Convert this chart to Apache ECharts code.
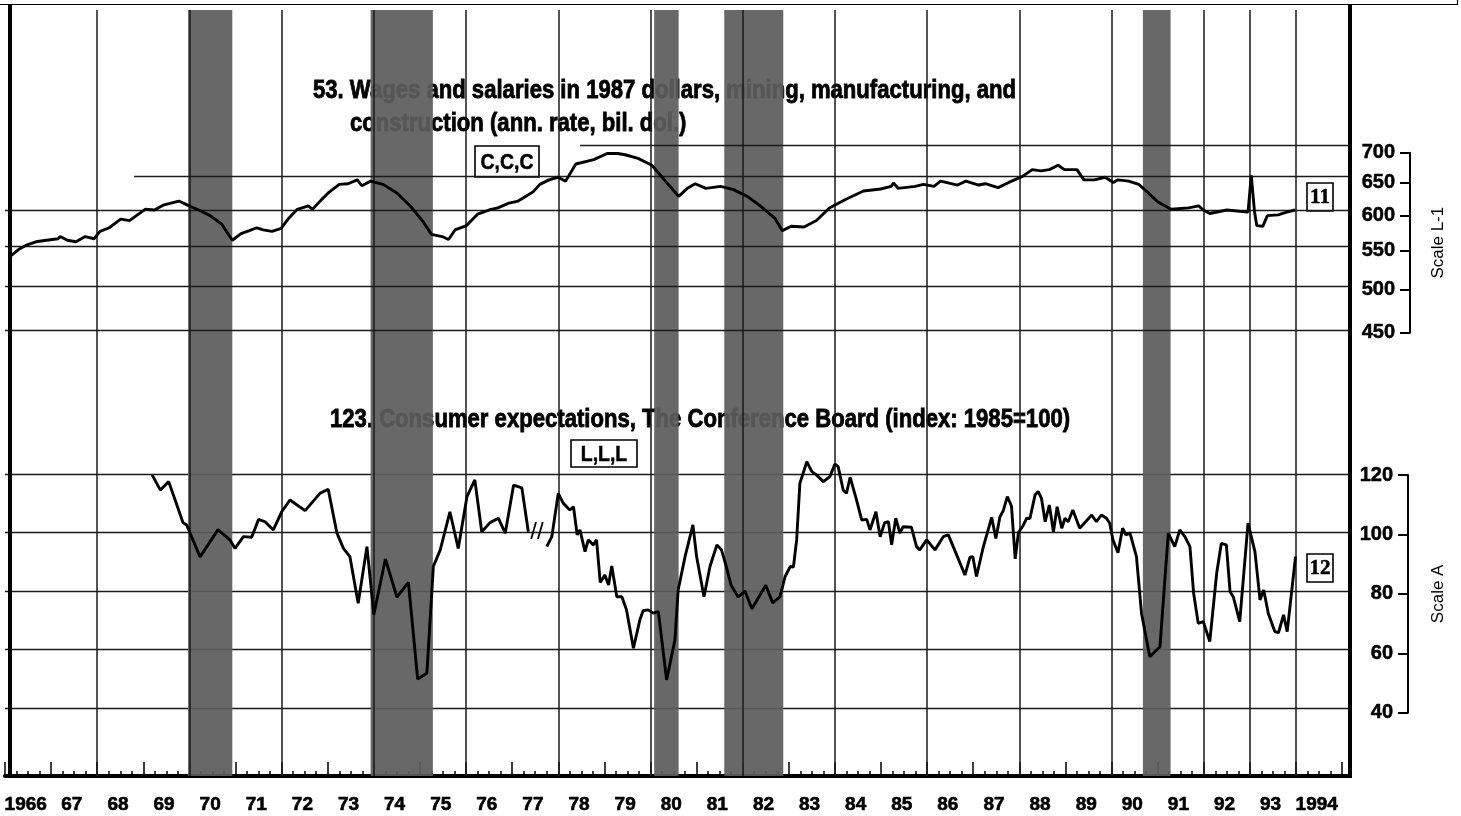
<!DOCTYPE html>
<html>
<head>
<meta charset="utf-8">
<title>Wages and salaries / Consumer expectations</title>
<script src="https://cdn.jsdelivr.net/npm/echarts@6/dist/echarts.min.js"></script>
<style>
  html, body { margin: 0; padding: 0; background: #fff; }
  #main { width: 1461px; height: 816px; }
</style>
</head>
<body>
<div id="main"></div>
<script>
// ---- axis labels / ticks ----
var yearLabels = ['1966', '67', '68', '69', '70', '71', '72', '73', '74', '75', '76', '77', '78', '79',
  '80', '81', '82', '83', '84', '85', '86', '87', '88', '89', '90', '91', '92', '93', '1994'];
var gridYears = [1968, 1970, 1972, 1974, 1976, 1978, 1980, 1982, 1984, 1986, 1988, 1990, 1992, 1993, 1994];
var wageScale = [450, 500, 550, 600, 650, 700];
var expScale = [40, 60, 80, 100, 120];
// [value, year where the grid line starts]
var wageGridLines = [[700, 1978.47], [650, 1968.8], [600, 1966], [550, 1966], [500, 1966], [450, 1966]];

// recessions, peak to trough
var recessions = [[1969.97, 1970.93], [1973.93, 1975.28], [1980.08, 1980.61], [1981.6, 1982.88], [1990.68, 1991.28]];

// ---- series 53: wages and salaries, 1987 dollars (bil. dol.) ----
var wageTime = [1966.09, 1966.30, 1966.48, 1966.67, 1966.90, 1967.15, 1967.20, 1967.35, 1967.54, 1967.74, 1967.93,
  1968.06, 1968.26, 1968.51, 1968.70, 1968.85, 1969.04, 1969.24, 1969.43, 1969.60, 1969.77, 1969.96,
  1970.20, 1970.45, 1970.70, 1970.93, 1971.12, 1971.30, 1971.46, 1971.60, 1971.79, 1971.99,
  1972.15, 1972.34, 1972.58, 1972.67, 1972.85, 1973.01, 1973.25, 1973.44, 1973.64, 1973.74, 1973.93,
  1974.20, 1974.50, 1974.80, 1975.05, 1975.25, 1975.48, 1975.62, 1975.76, 1976.01, 1976.25, 1976.54,
  1976.69, 1976.93, 1977.13, 1977.30, 1977.46, 1977.60, 1977.80, 1977.99, 1978.16, 1978.38, 1978.77,
  1979.06, 1979.29, 1979.45, 1979.73, 1980.03, 1980.30, 1980.61, 1980.80, 1980.97, 1981.20, 1981.52,
  1981.80, 1982.10, 1982.40, 1982.70, 1982.86, 1983.05, 1983.33, 1983.60, 1983.88, 1984.25, 1984.62,
  1984.99, 1985.22, 1985.27, 1985.37, 1985.74, 1985.92, 1986.15, 1986.29, 1986.66, 1986.84, 1987.12,
  1987.26, 1987.54, 1987.77, 1988.06, 1988.28, 1988.47, 1988.65, 1988.84, 1988.98, 1989.25, 1989.40,
  1989.63, 1989.86, 1990.04, 1990.14, 1990.37, 1990.59, 1990.80, 1991.00, 1991.29, 1991.67, 1991.89,
  1991.99, 1992.13, 1992.50, 1992.96, 1993.03, 1993.10, 1993.15, 1993.28, 1993.38, 1993.61, 1993.80, 1993.98];
var wageValue = [536, 546, 552, 556, 558, 560, 563, 558, 556, 563, 560,
  570, 575, 587, 585, 592, 601, 600, 607, 610, 613, 607,
  600, 592, 580, 558, 567, 571, 575, 572, 570, 574,
  588, 601, 606, 601, 614, 625, 638, 639, 645, 636, 643,
  638, 625, 605, 585, 566, 563, 559, 572, 578, 594, 601,
  603, 610, 613, 620, 627, 638, 645, 649, 643, 670, 677,
  687, 687, 685, 679, 668, 645, 620, 632, 639, 632, 635,
  630, 620, 605, 588, 571, 577, 576, 585, 603, 616, 628,
  631, 635, 640, 632, 635, 638, 635, 643, 637, 643, 637,
  639, 633, 641, 650, 661, 659, 661, 668, 661, 661, 645,
  645, 649, 641, 645, 643, 638, 625, 612, 601, 603, 606,
  600, 595, 600, 597, 652, 598, 578, 577, 592, 593, 597, 600];

// ---- series 123: consumer expectations (1985=100), quarterly part ----
var expTimeQ = [1969.19, 1969.37, 1969.55, 1969.69, 1969.86, 1969.94, 1970.23, 1970.62, 1970.88, 1970.99,
  1971.17, 1971.35, 1971.50, 1971.64, 1971.82, 1972.00, 1972.18, 1972.51, 1972.83, 1973.01, 1973.20,
  1973.34, 1973.48, 1973.66, 1973.85, 1974.00, 1974.25, 1974.50, 1974.75, 1974.95, 1975.15, 1975.29,
  1975.44, 1975.65, 1975.83, 1976.02, 1976.19, 1976.34, 1976.52, 1976.70, 1976.85, 1977.03, 1977.21, 1977.35];
var expValueQ = [119.7, 114.5, 117.4, 111.1, 103.4, 102.6, 91.7, 101, 97.5, 94.6,
  98.6, 98.4, 104.5, 103.7, 100.9, 107.1, 111.1, 107.5, 113.4, 114.8, 99.8,
  94.6, 91.8, 75.9, 95.2, 72, 91, 78, 83, 50, 52, 88.4,
  94.1, 107.1, 94.6, 112.3, 118, 100.3, 103.4, 104.9, 99.8, 116.2, 115.3, 100.3];

// monthly part
var expTimeM = [1977.75, 1977.86, 1978.00, 1978.11, 1978.25, 1978.33, 1978.41, 1978.47, 1978.58, 1978.65,
  1978.76, 1978.83, 1978.91, 1979.01, 1979.09, 1979.16, 1979.27, 1979.38, 1979.48, 1979.63, 1979.77,
  1979.84, 1979.95, 1980.06, 1980.17, 1980.35, 1980.53, 1980.60, 1980.75, 1980.92, 1981.00, 1981.16,
  1981.29, 1981.44, 1981.54, 1981.65, 1981.75, 1981.90, 1982.05, 1982.20, 1982.35, 1982.50, 1982.65,
  1982.81, 1982.92, 1983.03, 1983.10, 1983.17, 1983.24, 1983.39, 1983.50, 1983.60, 1983.75, 1983.89,
  1984.00, 1984.07, 1984.18, 1984.25, 1984.33, 1984.47, 1984.58, 1984.69, 1984.76, 1984.89, 1984.98,
  1985.08, 1985.16, 1985.23, 1985.32, 1985.41, 1985.48, 1985.66, 1985.77, 1985.84, 1985.99, 1986.17,
  1986.35, 1986.46, 1986.64, 1986.82, 1986.93, 1986.99, 1987.07, 1987.22, 1987.40, 1987.49, 1987.58,
  1987.65, 1987.74, 1987.83, 1987.91, 1987.98, 1988.09, 1988.16, 1988.23, 1988.34, 1988.41, 1988.48,
  1988.56, 1988.65, 1988.74, 1988.82, 1988.92, 1988.99, 1989.06, 1989.16, 1989.31, 1989.57, 1989.67,
  1989.78, 1989.89, 1989.96, 1990.03, 1990.14, 1990.24, 1990.31, 1990.40, 1990.54, 1990.65, 1990.83,
  1991.05, 1991.23, 1991.26, 1991.37, 1991.48, 1991.59, 1991.70, 1991.78, 1991.88, 1991.99, 1992.13,
  1992.28, 1992.38, 1992.49, 1992.57, 1992.64, 1992.78, 1992.96, 1993.11, 1993.22, 1993.30, 1993.40,
  1993.54, 1993.62, 1993.73, 1993.81, 1993.99];
var expValueM = [95.2, 98.6, 113.4, 110, 107.7, 108.8, 99.2, 100.9, 93.5, 97.5,
  95.8, 97.5, 83, 85.5, 82.1, 88.6, 78.1, 78.1, 73.6, 60.5, 70.2,
  73.3, 73.6, 72.5, 73, 49.7, 63.3, 80.4, 91.8, 102.6, 91.8, 78.1,
  88.4, 95.8, 94.1, 88, 82, 78, 80, 74, 78, 82, 76,
  78.1, 85, 88.4, 88.2, 97.5, 116.8, 124.2, 120.8, 119.7, 117.4, 119.1,
  123.4, 122.5, 114.5, 113.4, 118.9, 111.1, 104.3, 104.5, 100.9, 107.1, 98.6,
  103.4, 103.7, 95.8, 104.9, 99.8, 102, 101.8, 95.2, 94.1, 97.5, 94.1,
  98.6, 99.2, 92.4, 85.5, 91.6, 91.8, 85, 95.2, 105.2, 98, 105.4,
  107.4, 112.3, 109, 91, 100, 102.6, 104.9, 104.8, 112.8, 114, 111.7,
  103.7, 109.4, 100.3, 108.8, 101.5, 104.9, 103.7, 107.7, 101.5, 106, 103.7,
  106, 104.9, 103.2, 97.5, 93.1, 101.5, 99.2, 99.8, 91.8, 72.4, 57.6,
  61, 99.8, 100.3, 95.2, 100.9, 98.6, 95.2, 79.3, 69, 69.6, 62.8,
  86.1, 96.3, 95.8, 79.8, 78.1, 69.6, 103.2, 93.5, 77, 80.4, 72.4,
  66.2, 65.8, 71.9, 66.2, 91.8];

var title53a = '53. Wages and salaries in 1987 dollars, mining, manufacturing, and';
var title53b = 'construction (ann. rate, bil. dol.)';
var title123 = '123. Consumer expectations, The Conference Board (index: 1985=100)';

var SANS = '"Liberation Sans", Arial, Helvetica, sans-serif';
var SERIF = '"Liberation Serif", "Times New Roman", serif';
var XMIN = 1966, XMAX = 1995.15;

// the print uses a condensed bold face; squeeze Liberation Sans Bold to the same width
var ctx = document.createElement('canvas').getContext('2d');
ctx.font = 'bold 25px ' + SANS;
var SQ = 703 / ctx.measureText(title53a).width;

function pairs(t, v) {
  return t.map(function (x, i) { return [x, v[i]]; });
}
function hiddenX(g) {
  return { type: 'value', gridIndex: g, min: XMIN, max: XMAX, show: false };
}
function log10(v) { return Math.log(v) / Math.LN10; }

function title(text, x, y) {
  return { type: 'text', x: x, y: y, z: 1, scaleX: SQ,
    style: { text: text, font: 'bold 25px ' + SANS, fill: '#000', stroke: '#000', lineWidth: 0.8,
      textVerticalAlign: 'middle' } };
}
function boxText(text, x, y, w, h, font, sx) {
  return {
    type: 'group', x: x, y: y, z: 6,
    children: [
      { type: 'rect', shape: { x: 0, y: 0, width: w, height: h },
        style: { fill: '#fff', stroke: '#000', lineWidth: 1.6 } },
      { type: 'text', x: w / 2, y: h / 2 + 1, scaleX: sx,
        style: { text: text, font: font, fill: '#000', stroke: '#000', lineWidth: 0.5,
          textAlign: 'center', textVerticalAlign: 'middle' } }
    ]
  };
}

var myChart = echarts.init(document.getElementById('main'));

var option = {
  animation: false,
  backgroundColor: '#fff',
  grid: [
    { left: 5, right: 112, top: 10, bottom: 40 },          // frame, shading, years
    { left: 5, right: 112, top: 145.7, height: 184.3 },    // series 53
    { left: 5, right: 112, top: 474, height: 234.3 },      // series 123
    { left: 1300, right: 51, top: 152.7, height: 180 },    // scale L-1
    { left: 1300, right: 53, top: 475, height: 237.7 }     // scale A
  ],
  xAxis: [
    {
      type: 'value', gridIndex: 0, min: XMIN, max: XMAX, position: 'bottom',
      axisLine: { lineStyle: { color: '#000', width: 4 } },
      axisTick: { show: false },
      splitLine: { show: false },
      axisLabel: {
        customValues: yearLabels.map(function (s, i) { return XMIN + i + 0.45; }),
        formatter: function (v) { return yearLabels[Math.round(v - XMIN - 0.45)]; },
        fontFamily: SANS, fontWeight: 'bold', fontSize: 19, color: '#000', margin: 19,
        textBorderColor: '#000', textBorderWidth: 0.6
      }
    },
    {
      type: 'value', gridIndex: 0, min: XMIN, max: XMAX, interval: 0.25, position: 'bottom',
      axisLine: { show: false }, axisLabel: { show: false }, splitLine: { show: false },
      axisTick: { inside: true, length: 5, lineStyle: { color: '#000', width: 1.5 } }
    },
    {
      type: 'value', gridIndex: 0, min: XMIN, max: XMAX, interval: 1, position: 'bottom',
      axisLine: { show: false }, axisLabel: { show: false }, splitLine: { show: false },
      axisTick: { inside: true, length: 14, lineStyle: { color: '#000', width: 1.5 } }
    },
    hiddenX(1), hiddenX(2), hiddenX(3), hiddenX(4)
  ],
  yAxis: [
    { type: 'value', gridIndex: 0, min: 0, max: 1, show: false },
    { type: 'log', gridIndex: 1, min: 450, max: 700, show: false },
    {
      type: 'value', gridIndex: 2, min: 40, max: 120, interval: 20,
      axisLine: { show: false }, axisTick: { show: false }, axisLabel: { show: false },
      splitLine: { show: true, lineStyle: { color: '#1a1a1a', width: 1.4 } }
    },
    {
      type: 'value', gridIndex: 3, position: 'right', min: log10(450), max: log10(700),
      axisLine: { show: true, lineStyle: { color: '#000', width: 2 } },
      axisTick: { show: true, inside: true, length: 10, customValues: wageScale.map(log10),
        lineStyle: { color: '#000', width: 2 } },
      axisLabel: { inside: true, margin: 15, customValues: wageScale.map(log10),
        formatter: function (v) { return String(Math.round(Math.pow(10, v))); },
        fontFamily: SANS, fontWeight: 'bold', fontSize: 20, color: '#000',
        textBorderColor: '#000', textBorderWidth: 0.5 },
      splitLine: { show: false },
      name: 'Scale L-1', nameLocation: 'middle', nameRotate: 90, nameGap: 20,
      nameTextStyle: { fontFamily: SANS, fontSize: 17, color: '#000' }
    },
    {
      type: 'value', gridIndex: 4, position: 'right', min: 40, max: 120, interval: 20,
      axisLine: { show: true, lineStyle: { color: '#000', width: 2 } },
      axisTick: { show: true, inside: true, length: 10, lineStyle: { color: '#000', width: 2 } },
      axisLabel: { inside: true, margin: 15, fontFamily: SANS, fontWeight: 'bold', fontSize: 20, color: '#000',
        textBorderColor: '#000', textBorderWidth: 0.5 },
      splitLine: { show: false },
      name: 'Scale A', nameLocation: 'middle', nameRotate: 90, nameGap: 22,
      nameTextStyle: { fontFamily: SANS, fontSize: 17, color: '#000' }
    }
  ],
  series: [
    { // vertical grid lines
      type: 'line', xAxisIndex: 0, yAxisIndex: 0, data: [], z: 1,
      markLine: {
        silent: true, symbol: ['none', 'none'], label: { show: false },
        lineStyle: { color: '#1a1a1a', width: 1.5, type: 'solid' },
        data: gridYears.map(function (y) { return { xAxis: y }; })
      }
    },
    { // horizontal grid lines, scale L-1
      type: 'line', xAxisIndex: 3, yAxisIndex: 1, data: [], z: 1,
      markLine: {
        silent: true, symbol: ['none', 'none'], label: { show: false },
        lineStyle: { color: '#1a1a1a', width: 1.4, type: 'solid' },
        data: wageGridLines.map(function (g) { return [{ coord: [g[1], g[0]] }, { coord: [XMAX, g[0]] }]; })
      }
    },
    { // recession shading
      type: 'line', xAxisIndex: 0, yAxisIndex: 0, data: [], z: 3,
      markArea: {
        silent: true,
        itemStyle: { color: '#5c5c5c', opacity: 0.93 },
        data: recessions.map(function (r) { return [{ xAxis: r[0] }, { xAxis: r[1] }]; })
      }
    },
    {
      name: '53', type: 'line', xAxisIndex: 3, yAxisIndex: 1, z: 5, clip: false,
      showSymbol: false, symbol: 'none',
      lineStyle: { color: '#000', width: 2.9 },
      data: pairs(wageTime, wageValue)
    },
    {
      name: '123', type: 'line', xAxisIndex: 4, yAxisIndex: 2, z: 5, clip: false,
      showSymbol: false, symbol: 'none',
      lineStyle: { color: '#000', width: 2.9 },
      data: pairs(expTimeQ, expValueQ)
    },
    {
      name: '123m', type: 'line', xAxisIndex: 4, yAxisIndex: 2, z: 5, clip: false,
      showSymbol: false, symbol: 'none',
      lineStyle: { color: '#000', width: 2.9 },
      data: pairs(expTimeM, expValueM)
    }
  ],
  graphic: [
    title(title53a, 313, 91),
    title(title53b, 350, 124),
    title(title123, 330, 420),
    boxText('C,C,C', 475, 146, 64, 31, 'bold 22px ' + SANS, SQ),
    boxText('L,L,L', 571, 440, 66, 27, 'bold 22px ' + SANS, SQ),
    boxText('11', 1307, 183, 26, 28, 'bold 21px ' + SERIF, 1),
    boxText('12', 1307, 554, 26, 28, 'bold 21px ' + SERIF, 1),
    { type: 'text', x: 537, y: 532, z: 6,
      style: { text: '//', font: '24px ' + SANS, fill: '#000', textAlign: 'center', textVerticalAlign: 'middle' } },
    // frame
    { type: 'line', z: 10, shape: { x1: 0, y1: 4.5, x2: 1458, y2: 4.5 }, style: { stroke: '#000', lineWidth: 1.2 } },
    { type: 'line', z: 10, shape: { x1: 1457.5, y1: 0, x2: 1457.5, y2: 5 }, style: { stroke: '#000', lineWidth: 1.2 } },
    { type: 'line', z: 10, shape: { x1: 10, y1: 4, x2: 10, y2: 778 }, style: { stroke: '#000', lineWidth: 4 } },
    { type: 'line', z: 10, shape: { x1: 1350, y1: 4, x2: 1350, y2: 778 }, style: { stroke: '#000', lineWidth: 4 } }
  ]
};

myChart.setOption(option);
</script>
</body>
</html>
